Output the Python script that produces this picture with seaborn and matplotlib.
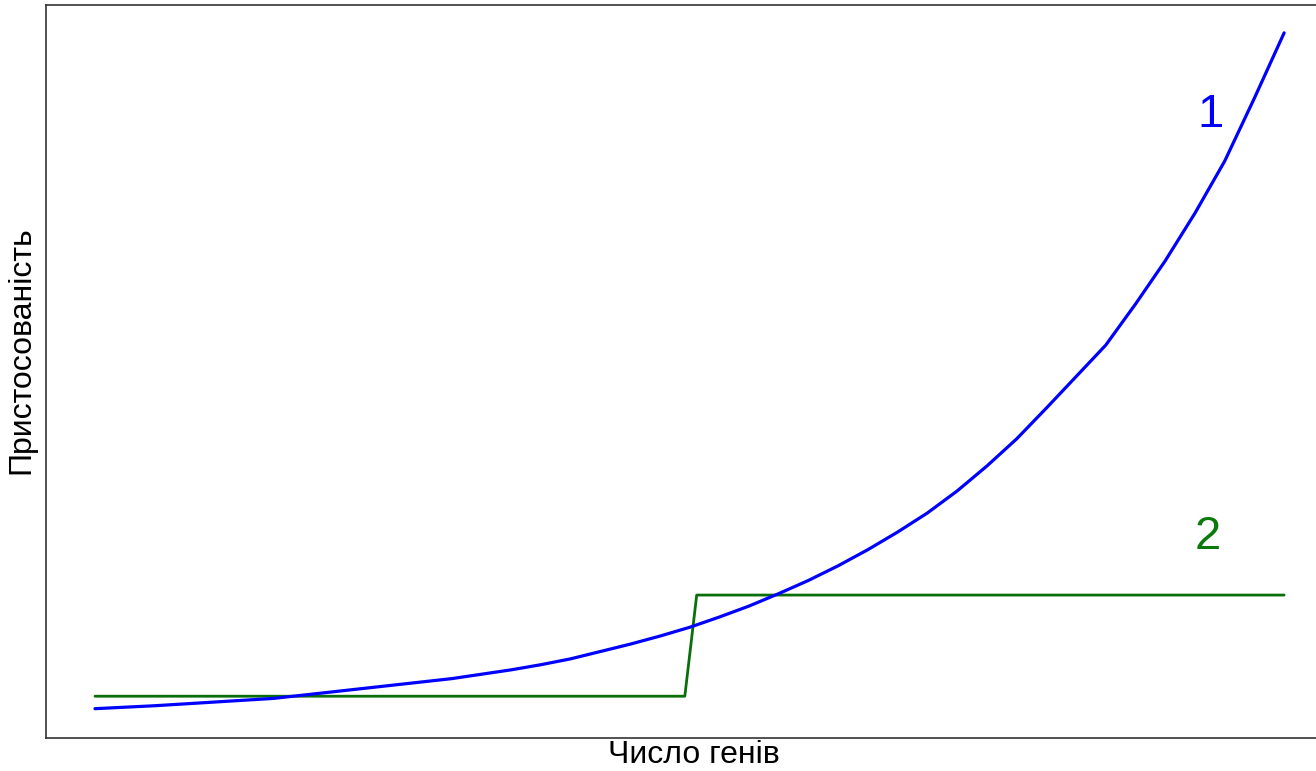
import matplotlib
matplotlib.use("Agg")
import matplotlib.pyplot as plt
import seaborn as sns
import pandas as pd

# Data
genes_1 = [0, 5, 10, 15, 20, 25, 30, 35, 37.5, 40, 42.5, 45, 47.5, 50, 52.5, 55, 57.5, 60,
           62.5, 65, 67.5, 70, 72.5, 75, 77.5, 80, 82.5, 85, 87.5, 90, 92.5, 95, 97.5, 100]
fitness_1 = [4.0, 4.4, 4.9, 5.4, 6.3, 7.2, 8.1, 9.3, 10.0, 10.8, 11.8, 12.8, 13.9, 15.1, 16.5,
             18.0, 19.7, 21.5, 23.5, 25.7, 28.1, 30.7, 33.7, 37.1, 40.8, 45.0, 49.3, 53.6,
             59.2, 65.1, 71.6, 78.7, 87.3, 96.2]
genes_2 = [0, 49.6, 50.6, 100]
fitness_2 = [5.7, 5.7, 19.5, 19.5]

x_label = "Число генів"
y_label = "Пристосованість"
curve_labels = ["1", "2"]

sns.set_style("white")
plt.rcParams["font.family"] = ["Liberation Sans", "DejaVu Sans"]

fig = plt.figure(figsize=(13.16, 7.71), dpi=100)
ax = fig.add_axes([46 / 1316, 33 / 771, 1 - 46 / 1316 + 0.002, 733 / 771])

df1 = pd.DataFrame({"x": genes_1, "y": fitness_1})
df2 = pd.DataFrame({"x": genes_2, "y": fitness_2})
sns.lineplot(data=df2, x="x", y="y", ax=ax, color="#0a6e0a", linewidth=2.0, sort=False)
sns.lineplot(data=df1, x="x", y="y", ax=ax, color="#0000ff", linewidth=2.3, sort=False)

ax.text(93.8, 85.0, curve_labels[0], color="#0000ff", fontsize=34, ha="center", va="center")
ax.text(93.6, 27.4, curve_labels[1], color="#0a7a0a", fontsize=34, ha="center", va="center")

ax.set_xlim(-4.12, 102.9)
ax.set_ylim(0, 100)
ax.set_xticks([])
ax.set_yticks([])

for s in ax.spines.values():
    s.set_color("#333333")
    s.set_linewidth(1.2)
    s.set_visible(True)
ax.spines["right"].set_visible(False)

ax.set_xlabel(x_label, fontsize=23, va="center", color="black")
ax.set_ylabel(y_label, fontsize=23, va="center", color="black")
ax.xaxis.set_label_coords(0.509, -0.023)
ax.yaxis.set_label_coords(-0.019, 0.529)

fig.savefig("out.png", dpi=100)
